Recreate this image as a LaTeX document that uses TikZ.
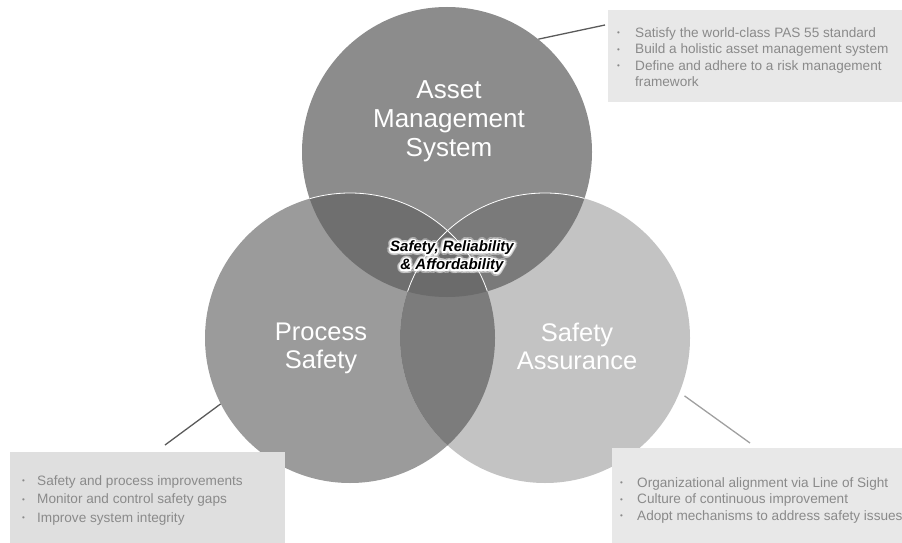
\documentclass[tikz,border=0pt]{standalone}
\usepackage{fontspec}
\setmainfont{Liberation Sans}
\definecolor{cA}{HTML}{8C8C8C}
\definecolor{cP}{HTML}{9B9B9B}
\definecolor{cS}{HTML}{C3C3C3}
\definecolor{cAP}{HTML}{6F6F6F}
\definecolor{cAS}{HTML}{7A7A7A}
\definecolor{cPS}{HTML}{7C7C7C}
\definecolor{cAPS}{HTML}{6B6B6B}
\definecolor{boxfill}{HTML}{E8E8E8}
\definecolor{boxfilldark}{HTML}{DFDFDF}
\definecolor{boxtxt}{HTML}{8A8A8A}
\definecolor{leadc}{HTML}{5A5A5A}
\definecolor{leadlight}{HTML}{A0A0A0}
\newcommand\bulitem[1]{\makebox[#1][l]{\raisebox{1.5pt}{\fontsize{8}{8}\selectfont •}}}
\begin{document}
\begin{tikzpicture}[x=1pt,y=-1pt,
  venn/.style={circle, minimum size=290pt, inner sep=0pt},
  circlabel/.style={text=white, font=\fontsize{25.5}{28}\selectfont, align=center, inner sep=0pt},
  toplabel/.style={circlabel, font=\fontsize{26}{29}\selectfont},
  boxtext/.style={text=boxtxt, font=\fontsize{13.6}{16.5}\selectfont, align=left, inner sep=0pt, anchor=north west},
  boxtextwide/.style={boxtext, font=\fontsize{13.6}{18.5}\selectfont},
  callout/.style={fill=boxfill},
  lead/.style={line width=1.3pt, draw=leadc},
  centertext/.style={font=\fontsize{15}{18}\selectfont\bfseries\itshape, align=center, inner sep=0pt},
  outline/.style={draw=white, line width=0.8pt}]
\useasboundingbox (0,0) rectangle (902,543);
% circle nodes (for names)
\node[venn] (A) at (447,152) {};
\node[venn] (P) at (350,338) {};
\node[venn] (S) at (545,338) {};
% fills
\fill[cA] (447,152) circle (145);
\fill[cP] (350,338) circle (145);
\fill[cS] (545,338) circle (145);
\begin{scope}
  \clip (447,152) circle (145);
  \fill[cAP] (350,338) circle (145);
\end{scope}
\begin{scope}
  \clip (447,152) circle (145);
  \fill[cAS] (545,338) circle (145);
\end{scope}
\begin{scope}
  \clip (350,338) circle (145);
  \fill[cPS] (545,338) circle (145);
\end{scope}
\begin{scope}
  \clip (447,152) circle (145);
  \clip (350,338) circle (145);
  \fill[cAPS] (545,338) circle (145);
\end{scope}
% white outlines, visible only inside the top circle
\begin{scope}
  \clip (447,152) circle (145);
  \draw[outline] (350,338) circle (145);
  \draw[outline] (545,338) circle (145);
\end{scope}
% circle labels
\node[toplabel] (lA) at (449,121.5) {Asset\\Management\\System};
\node[circlabel] (lP) at (321,348) {Process\\Safety};
\node[circlabel] (lS) at (577,346) {Safety\\Assurance};
% centre text with halo
\foreach \a [count=\i] in {0,22.5,...,337.5} {
  \node[centertext, text=white, text opacity=0.3, shift={(\a:3.5pt)}] (g\i) at (452,257) {Safety, Reliability\\\& Affordability};
}
\foreach \a [count=\i] in {0,22.5,...,337.5} {
  \node[centertext, text=white, shift={(\a:1.6pt)}] (h\i) at (452,257) {Safety, Reliability\\\& Affordability};
}
\node[centertext, text=black] (core) at (452,257) {Safety, Reliability\\\& Affordability};
% callout boxes
\fill[callout] (608,10) rectangle (902,102);
\fill[callout, fill=boxfilldark] (10,452) rectangle (285,543);
\fill[callout] (612,448) rectangle (902,543);
\node[boxtext] (tA) at (617,27) {\bulitem{18pt}Satisfy the world-class PAS 55 standard\\
\bulitem{18pt}Build a holistic asset management system\\
\bulitem{18pt}Define and adhere to a risk management\\
\hspace*{18pt}framework};
\node[boxtextwide] (tP) at (22,475) {\bulitem{15pt}Safety and process improvements\\
\bulitem{15pt}Monitor and control safety gaps\\
\bulitem{15pt}Improve system integrity};
\node[boxtext] (tS) at (620,477) {\bulitem{17pt}Organizational alignment via Line of Sight\\
\bulitem{17pt}Culture of continuous improvement\\
\bulitem{17pt}Adopt mechanisms to address safety issues};
% leader lines
\coordinate (eA) at (605,25);
\coordinate (eP) at (165,445);
\coordinate (eS) at (750,443);
\draw[lead] (A.51) -- (eA);
\draw[lead] (P.207) -- (eP);
\draw[lead, draw=leadlight, shorten <=6pt] (S.-22) -- (eS);
\end{tikzpicture}
\end{document}
